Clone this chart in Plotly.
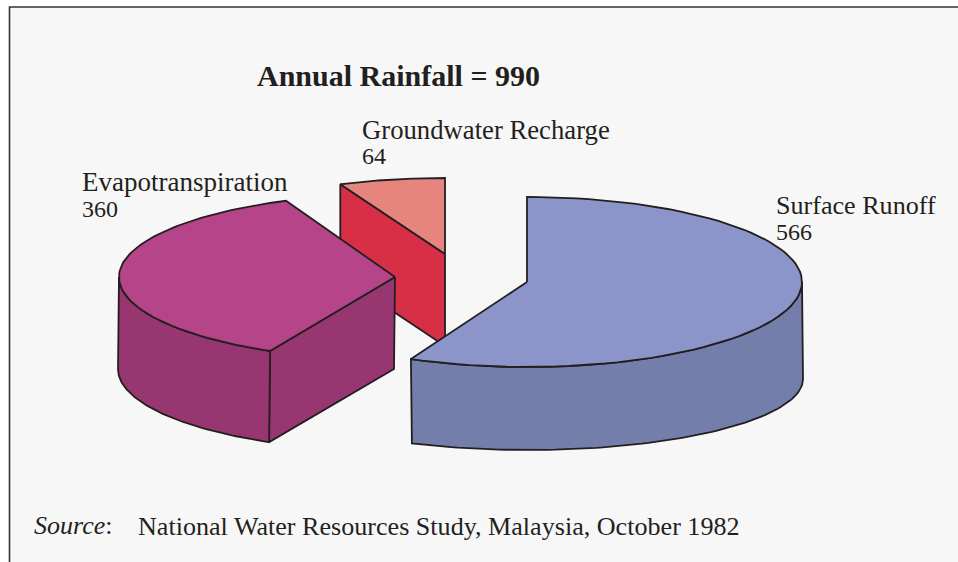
import numpy as np
import plotly.graph_objects as go

# chart values
slice_names = ["Surface Runoff", "Evapotranspiration", "Groundwater Recharge"]
slice_values = [566, 360, 64]
total_rainfall = 990

# colours
top_colors = ["#8b95c9", "#b64488", "#e5857d"]
side_colors = ["#737eab", "#983672", "#d73046"]
ink = "#231f20"
font = "Liberation Serif"

# exploded wedge geometry, one entry per slice: apex, radii, bottom ellipse
apex_x = [527, 395, 445]
apex_y = [282, 277, 254]
radius_x = [275, 276, 265]
radius_y = [85, 83, 76]
drop_x = [1, -1, 0]
drop_y = [97, 92, 92]
bottom_radius_y = [71, 82, 76]
# the drawn wedges are not quite true to the angle, small trim in degrees
start_trim = [0, 1.1, 0]
end_trim = [-0.85, 0, 0]

angles = np.cumsum([0] + slice_values) / total_rainfall * 2 * np.pi
starts = angles[:-1] + np.radians(start_trim)
ends = angles[1:] + np.radians(end_trim)


def rim(i, a0, a1, bottom=False, n=80):
    t = np.linspace(a0, a1, n)
    if bottom:
        x = apex_x[i] + drop_x[i] + radius_x[i] * np.sin(t)
        y = apex_y[i] + drop_y[i] - bottom_radius_y[i] * np.cos(t)
    else:
        x = apex_x[i] + radius_x[i] * np.sin(t)
        y = apex_y[i] - radius_y[i] * np.cos(t)
    return x, y


def face(x, y, color):
    return go.Scatter(x=np.append(x, x[0]), y=np.append(y, y[0]), mode="lines", fill="toself",
                      fillcolor=color, line=dict(color=ink, width=1.8), hoverinfo="skip",
                      showlegend=False)


def top_face(i):
    x, y = rim(i, starts[i], ends[i])
    return face(np.r_[apex_x[i], x], np.r_[apex_y[i], y], top_colors[i])


def outer_face(i, a0, a1):
    x0, y0 = rim(i, a0, a1)
    x1, y1 = rim(i, a1, a0, bottom=True)
    return face(np.r_[x0, x1], np.r_[y0, y1], side_colors[i])


def cut_face(i, a):
    x0, y0 = rim(i, a, a, n=1)
    x1, y1 = rim(i, a, a, bottom=True, n=1)
    return face(np.r_[apex_x[i], x0, x1, apex_x[i] + drop_x[i]],
                np.r_[apex_y[i], y0, y1, apex_y[i] + drop_y[i]], side_colors[i])


fig = go.Figure()

# back to front
fig.add_trace(cut_face(2, starts[2]))
fig.add_trace(top_face(2))
fig.add_trace(cut_face(1, starts[1]))
fig.add_trace(outer_face(1, starts[1], 1.5 * np.pi))
fig.add_trace(top_face(1))
fig.add_trace(outer_face(0, 0.5 * np.pi, ends[0]))
fig.add_trace(top_face(0))

# label x, name y, value y, name size
labels = [(774, 205, 232, 26.1), (80, 182, 209, 27), (360, 130, 156, 26.7)]
for (lx, ly0, ly1, size), name, val in zip(labels, slice_names, slice_values):
    fig.add_annotation(x=lx, y=ly0, text=name, showarrow=False, xanchor="left", yanchor="middle",
                       font=dict(family=font, size=size, color=ink))
    fig.add_annotation(x=lx, y=ly1, text=str(val), showarrow=False, xanchor="left", yanchor="middle",
                       font=dict(family=font, size=24, color=ink))

fig.add_annotation(x=255, y=75, text="<b>Annual Rainfall = %d</b>" % total_rainfall, showarrow=False,
                   xanchor="left", yanchor="middle", font=dict(family=font, size=30, color=ink))
fig.add_annotation(x=32, y=525, text="<i>Source</i>:", showarrow=False, xanchor="left",
                   yanchor="middle", font=dict(family=font, size=26, color=ink))
fig.add_annotation(x=136, y=526, text="National Water Resources Study, Malaysia, October 1982",
                   showarrow=False, xanchor="left", yanchor="middle",
                   font=dict(family=font, size=26.1, color=ink))

fig.update_layout(
    width=958, height=562,
    margin=dict(l=0, r=0, t=0, b=0),
    paper_bgcolor="white",
    plot_bgcolor="white",
    xaxis=dict(range=[0, 958], visible=False),
    yaxis=dict(range=[562, 0], visible=False),
    shapes=[dict(type="rect", xref="x", yref="y", x0=9.5, y0=7, x1=975, y1=580, layer="below",
                 fillcolor="#f7f7f7", line=dict(color="#333333", width=1.6))],
)

fig.write_html("out.html", config=dict(displayModeBar=False),
               post_script="document.body.style.margin='0';document.body.style.overflow='hidden';")
